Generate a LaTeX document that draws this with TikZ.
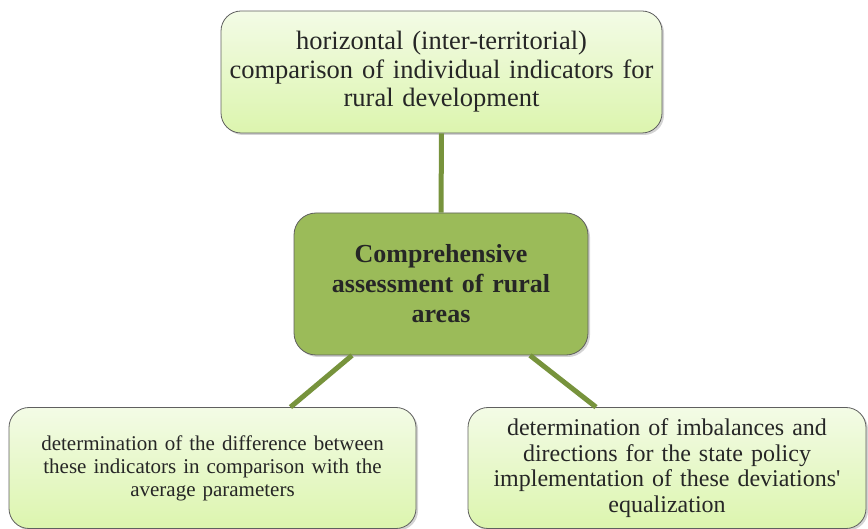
\documentclass[tikz,border=0pt]{standalone}
\usepackage{fontspec}
\setmainfont{Liberation Serif}[Ligatures=TeX]
\newfontfamily\boxfont{Liberation Serif}
\usetikzlibrary{shadows}
\definecolor{leafdark}{HTML}{9BBB59}
\definecolor{linkgreen}{HTML}{77933C}
\definecolor{paletop}{HTML}{F3FBE6}
\definecolor{palebottom}{HTML}{DCF5AE}
\definecolor{edgegray}{HTML}{5F5F5F}
\begin{document}
\begin{tikzpicture}[
    x=1pt, y=-1pt,
    leaf/.style={rectangle, draw=edgegray, line width=0.8pt, rounded corners=20pt,
        top color=paletop, bottom color=palebottom, align=center, text=black!85,
        drop shadow={shadow xshift=2pt, shadow yshift=-2pt, opacity=0.35}},
    hub/.style={rectangle, draw=edgegray, line width=0.8pt, rounded corners=22pt,
        fill=leafdark, align=center, text=black!85,
        drop shadow={shadow xshift=2pt, shadow yshift=-2pt, opacity=0.35}},
    link/.style={draw=linkgreen, line width=5pt}
]
    \useasboundingbox (0,0) rectangle (868,529);

    % Central node
    \node[hub, minimum width=294pt, minimum height=142pt, text width=270pt,
        font=\boxfont\fontsize{26}{30}\selectfont\bfseries] (assess) at (441,284)
        {Comprehensive\\assessment of rural\\areas};

    % Outer nodes
    \node[leaf, minimum width=441pt, minimum height=122pt, text width=430pt,
        font=\boxfont\fontsize{26.5}{28.5}\selectfont] (horiz) at (441.5,72)
        {horizontal (inter-territorial)\\comparison of individual indicators for\\rural development};
    \node[leaf, minimum width=407pt, minimum height=121pt, text width=395pt,
        font=\boxfont\fontsize{21}{23}\selectfont] (diff) at (212.5,468)
        {determination of the difference between\\these indicators in comparison with the\\average parameters};
    \node[leaf, minimum width=398pt, minimum height=121pt, text width=390pt,
        font=\boxfont\fontsize{24}{25.5}\selectfont] (imbal) at (667,468)
        {determination of imbalances and\\directions for the state policy\\implementation of these deviations\textquotesingle\\equalization};

    % Connections
    \draw[link] (horiz.south) -- (assess.north);
    \draw[link] ([xshift=-89pt]assess.south) -- ([xshift=78pt]diff.north);
    \draw[link] ([xshift=89pt]assess.south) -- ([xshift=-71pt]imbal.north);
\end{tikzpicture}
\end{document}
